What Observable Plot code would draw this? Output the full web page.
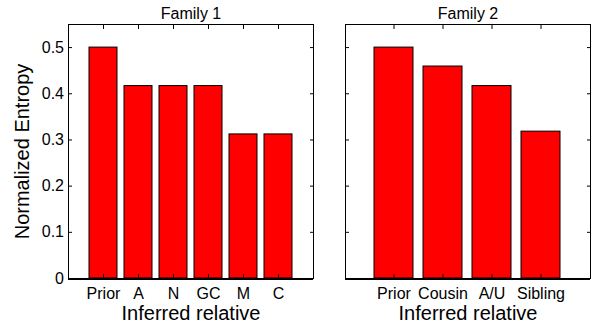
<!DOCTYPE html>
<html>
<head>
<meta charset="utf-8">
<script src="https://cdn.jsdelivr.net/npm/d3@7"></script>
<script src="https://cdn.jsdelivr.net/npm/@observablehq/plot@0.6"></script>
<style>
  html, body { margin: 0; padding: 0; background: #fff; }
  #wrap { position: relative; width: 593px; height: 323px; overflow: hidden; font-family: "Liberation Sans", Arial, sans-serif; }
  #wrap svg { position: absolute; top: 0; background: transparent; }
</style>
</head>
<body>
<div id="wrap"></div>
<script>
const family1Relatives = ["Prior", "A", "N", "GC", "M", "C"];
const family1Entropy = [0.5, 0.4167, 0.4167, 0.4167, 0.312, 0.312];
const family2Relatives = ["Prior", "Cousin", "A/U", "Sibling"];
const family2Entropy = [0.5, 0.459, 0.4167, 0.318];
const yTicks = [0, 0.1, 0.2, 0.3, 0.4, 0.5];
const yTickLabels = ["0", "0.1", "0.2", "0.3", "0.4", "0.5"];
const titles = ["Family 1", "Family 2"];
const xLabel = "Inferred relative";
const yLabel = "Normalized Entropy";

const FONT = "Liberation Sans, Arial, sans-serif";

function panel({cats, vals, title, left, width, marginLeft, marginRight, showY}) {
  const data = cats.map((c, i) => ({rel: c, val: vals[i]}));
  const marks = [
    Plot.barY(data, {x: "rel", y: "val", fill: "#ff0000", stroke: "#000", strokeWidth: 1}),
    Plot.frame({stroke: "#000", strokeWidth: 1}),
    Plot.ruleY([0], {stroke: "#000", strokeWidth: 2, dy: 0.5}),
    // inward ticks
    Plot.axisY({anchor: "left", ticks: yTicks, tickSize: 4, dx: 4, tickFormat: () => "", label: null}),
    Plot.axisY({anchor: "right", ticks: yTicks, tickSize: 4, dx: -4, tickFormat: () => "", label: null}),
    Plot.axisX({anchor: "bottom", tickSize: 4, dy: -4, tickFormat: () => "", label: null}),
    Plot.axisX({anchor: "top", tickSize: 4, dy: 4, tickFormat: () => "", label: null}),
    // tick labels
    Plot.axisX({anchor: "bottom", tickSize: 0, tickPadding: 9, fontSize: 16, label: null}),
    Plot.text([title], {frameAnchor: "top", dy: -11, fontSize: 16, lineAnchor: "middle", fill: "#000"}),
    Plot.text([xLabel], {frameAnchor: "bottom", dy: 35, fontSize: 20, lineAnchor: "middle", fill: "#000"})
  ];
  if (showY) {
    marks.push(Plot.axisY({anchor: "left", ticks: yTicks, tickSize: 0, tickPadding: 4.5, fontSize: 16, label: null,
      tickFormat: d => yTickLabels[yTicks.indexOf(d)]}));
    marks.push(Plot.text([yLabel], {frameAnchor: "left", dx: -45.5, rotate: -90, fontSize: 20, textAnchor: "middle", lineAnchor: "middle", fill: "#000"}));
  }
  const svg = Plot.plot({
    width, height: 323,
    marginTop: 24, marginBottom: 45, marginLeft, marginRight,
    style: {fontFamily: FONT, color: "#000", background: "transparent", overflow: "visible"},
    x: {type: "band", domain: cats, paddingInner: 0.2, paddingOuter: 0.6, axis: null},
    y: {domain: [0, 0.55], axis: null},
    marks
  });
  svg.style.left = left + "px";
  return svg;
}

const wrap = document.getElementById("wrap");
wrap.appendChild(panel({cats: family1Relatives, vals: family1Entropy, title: titles[0], left: 0, width: 330, marginLeft: 68, marginRight: 17, showY: true}));
wrap.appendChild(panel({cats: family2Relatives, vals: family2Entropy, title: titles[1], left: 330, width: 263, marginLeft: 15, marginRight: 3, showY: false}));
</script>
</body>
</html>
